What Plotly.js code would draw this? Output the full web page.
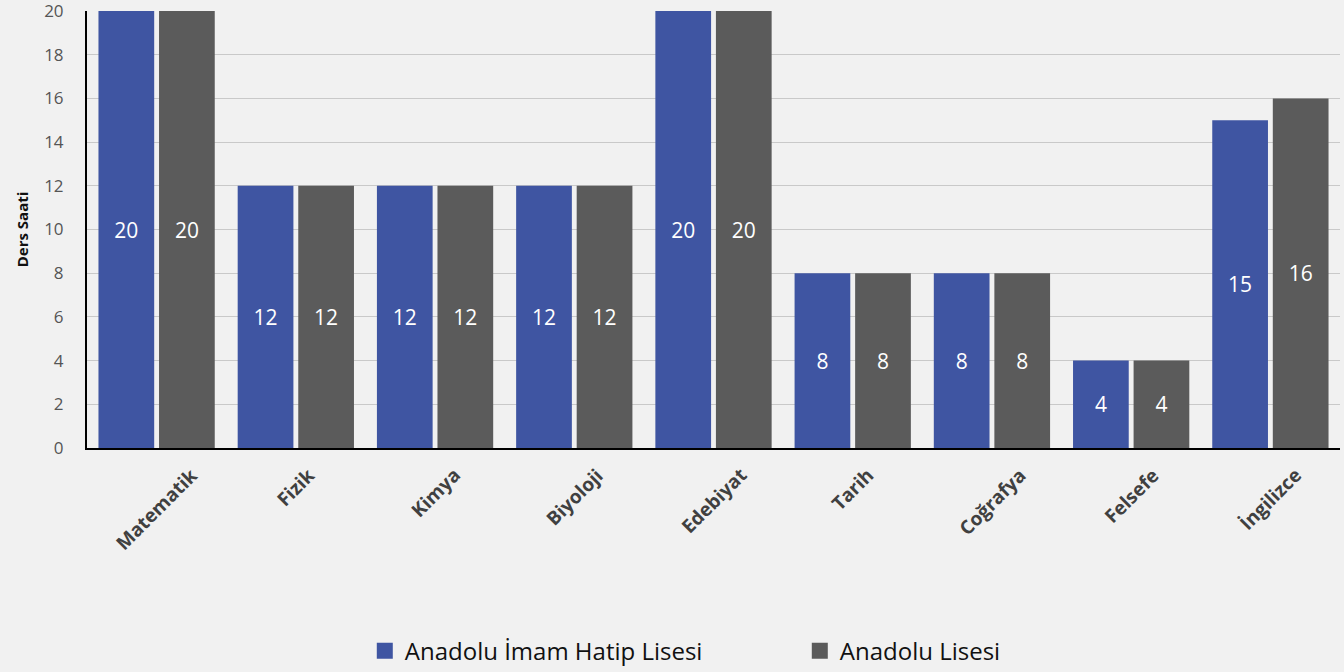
<!DOCTYPE html>
<html><head><meta charset="utf-8">
<script src="https://cdn.plot.ly/plotly-3.0.1.min.js"></script>
<style>html,body{margin:0;padding:0;background:#f1f1f1;}#chart{width:1344px;height:672px;}</style>
</head><body><div id="chart"></div>
<script>
const categories = ["Matematik","Fizik","Kimya","Biyoloji","Edebiyat","Tarih","Coğrafya","Felsefe","İngilizce"];
const imamHatip = [20,12,12,12,20,8,8,4,15];
const anadolu = [20,12,12,12,20,8,8,4,16];
const seriesNames = ["Anadolu İmam Hatip Lisesi","Anadolu Lisesi"];
const colors = ["#3F55A2","#5B5B5B"];
const yMax = 20;
const yStep = 2;
const FONT = "Open Sans, sans-serif";

function barTrace(vals, i){
  return {type:'bar', x:categories, y:vals, name:seriesNames[i], showlegend:false,
    marker:{color:colors[i]}, text:vals.map(String), textposition:'inside',
    insidetextanchor:'middle', textangle:0,
    textfont:{color:'#ffffff', size:21, family:FONT}, hoverinfo:'x+y'};
}
function legendTrace(i){
  return {type:'scatter', mode:'markers', x:[null], y:[null], name:seriesNames[i],
    marker:{symbol:'square', size:22, color:colors[i]}, showlegend:true, hoverinfo:'skip'};
}
const data = [barTrace(imamHatip,0), barTrace(anadolu,1), legendTrace(0), legendTrace(1)];

const annotations = categories.map(c => ({
  x:c, xref:'x', y:0, yref:'paper', yshift:-12, text:'<b>'+c+'</b>', showarrow:false,
  textangle:-45, xanchor:'center', yanchor:'top', font:{family:FONT, size:19, color:'#404040'}
}));

const layout = {
  width:1344, height:672,
  paper_bgcolor:'#f1f1f1', plot_bgcolor:'rgba(0,0,0,0)',
  margin:{l:87, r:4, t:11, b:224, autoexpand:false},
  font:{family:FONT},
  barmode:'group', bargap:0.13, bargroupgap:0.08,
  xaxis:{type:'category', showticklabels:false, showgrid:false, showline:true, linecolor:'#000', linewidth:2, ticks:'', zeroline:false, fixedrange:true},
  yaxis:{range:[0,yMax], tickmode:'linear', tick0:0, dtick:yStep, ticklabeloverflow:'allow', showgrid:true, gridcolor:'#c9c9c9', gridwidth:1, showline:true, linecolor:'#000', linewidth:2, zeroline:false,
    ticks:'outside', ticklen:18, tickcolor:'rgba(0,0,0,0)', tickfont:{size:17, color:'#555', family:FONT},
    title:{text:'<b>Ders Saati</b>', font:{size:15, color:'#111', family:FONT}, standoff:12}},
  legend:{orientation:'h', x:0.2217, xanchor:'left', y:-0.465, yanchor:'middle', font:{size:24, color:'#111', family:FONT},
    entrywidth:390, entrywidthmode:'pixels', bgcolor:'rgba(0,0,0,0)'},
  annotations:annotations
};
Plotly.newPlot('chart', data, layout, {displayModeBar:false, staticPlot:true});
</script></body></html>
